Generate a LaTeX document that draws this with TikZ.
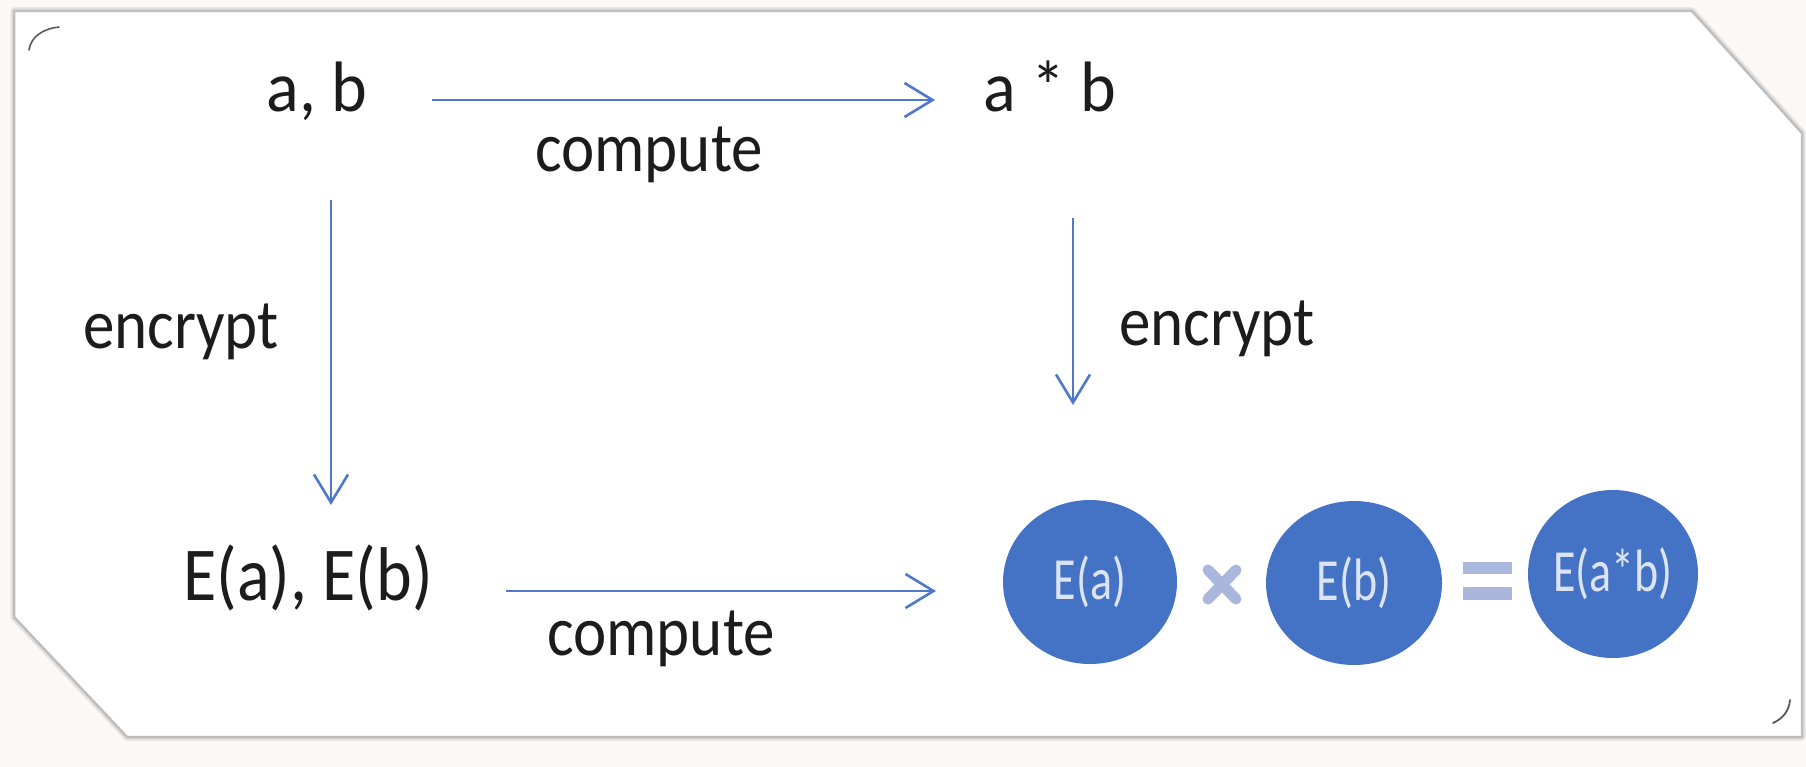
\documentclass[tikz,border=0pt]{standalone}
\usepackage{fontspec}
\usepackage{graphicx}
\setmainfont{Carlito}
\usetikzlibrary{arrows.meta,shapes.geometric}
\definecolor{bgc}{HTML}{FCF8F5}
\definecolor{framec}{HTML}{BEBEBE}
\definecolor{shadowc}{HTML}{E4E0DD}
\definecolor{arrowc}{HTML}{4F78CC}
\definecolor{circc}{HTML}{4472C4}
\definecolor{ctxt}{HTML}{DCE4F4}
\definecolor{opc}{HTML}{A8B7DB}
\definecolor{txtc}{HTML}{1C1C1C}
\definecolor{markc}{HTML}{5A5A5A}
\begin{document}
\begin{tikzpicture}[x=1pt,y=-1pt,
  bigtxt/.style={font=\fontsize{68}{76}\selectfont, text=txtc, inner sep=0pt, anchor=base},
  lbltxt/.style={font=\fontsize{63}{70}\selectfont, text=txtc, inner sep=0pt, anchor=base},
  enctxt/.style={font=\fontsize{68}{76}\selectfont, text=txtc, inner sep=0pt, anchor=base},
  blob/.style={ellipse, fill=circc, inner sep=0pt, text=ctxt, font=\fontsize{46}{50}\selectfont},
  arr/.style={draw=arrowc, line width=2.6pt, -{Straight Barb[length=28pt,width=34pt]}},
  opstyle/.style={opc}
]
% background and frame
\fill[bgc] (0,0) rectangle (1806,767);
\useasboundingbox (0,0) rectangle (1806,767);
\draw[shadowc, line width=7pt, line join=round] (14,11) -- (1692,11) -- (1802,133) -- (1802,737) -- (127,737) -- (14,617) -- cycle;
\filldraw[fill=white, draw=framec, line width=2.5pt, line join=round] (14,11) -- (1692,11) -- (1802,133) -- (1802,737) -- (127,737) -- (14,617) -- cycle;
% corner marks
\draw[markc, line width=1.6pt, line cap=round] (29,50) .. controls (31,37) and (42,29) .. (59,27);
\draw[markc, line width=1.8pt, line cap=round] (1773,723) .. controls (1784,718) and (1789,710) .. (1790,700);

% text nodes
\node[bigtxt] (ab) at (317,112) {\scalebox{1}[1.05]{a, b}};
\node[bigtxt] (axb) at (1050,112) {\scalebox{1}[1.05]{a * b}};
\node[bigtxt] (Eab) at (308,600) {\scalebox{1}[1.12]{E(a), E(b)}};
\node[lbltxt] (comp1) at (649,172) {\scalebox{1}[1.12]{compute}};
\node[lbltxt] (comp2) at (661,655) {\scalebox{1}[1.12]{compute}};
\node[lbltxt] (enc1) at (181,348) {\scalebox{1}[1.12]{encrypt}};
\node[lbltxt] (enc2) at (1217,345) {\scalebox{1}[1.12]{encrypt}};

% circles
\node[blob, minimum width=174pt, minimum height=164pt] (ca) at (1090,582) {\scalebox{1}[1.3]{E(a)}};
\node[blob, minimum width=176pt, minimum height=164pt] (cb) at (1354,583) {\scalebox{1}[1.3]{E(b)}};
\node[blob, minimum width=170pt, minimum height=168pt] (cab) at (1613,574) {\scalebox{1}[1.3]{E(a*b)}};

% operators
\draw[opc, line width=11pt, line cap=round] (1208,570) -- (1236,599);
\draw[opc, line width=11pt, line cap=round] (1208,599) -- (1236,570);
\fill[opc] (1463,562) rectangle (1512,574);
\fill[opc] (1463,587) rectangle (1512,600);

% arrows
\draw[arr] ([shift={(115pt,12pt)}]ab.base) -- ([shift={(-115pt,12pt)}]axb.base);
\draw[arr] ([shift={(14pt,-88pt)}]ab.base) -- ([shift={(23pt,95pt)}]Eab.base);
\draw[arr] ([shift={(23pt,-106pt)}]axb.base) -- ([shift={(-17pt,177pt)}]ca.center);
\draw[arr] ([shift={(198pt,9pt)}]Eab.base) -- ([shift={(-154pt,-9pt)}]ca.center);
\end{tikzpicture}
\end{document}
